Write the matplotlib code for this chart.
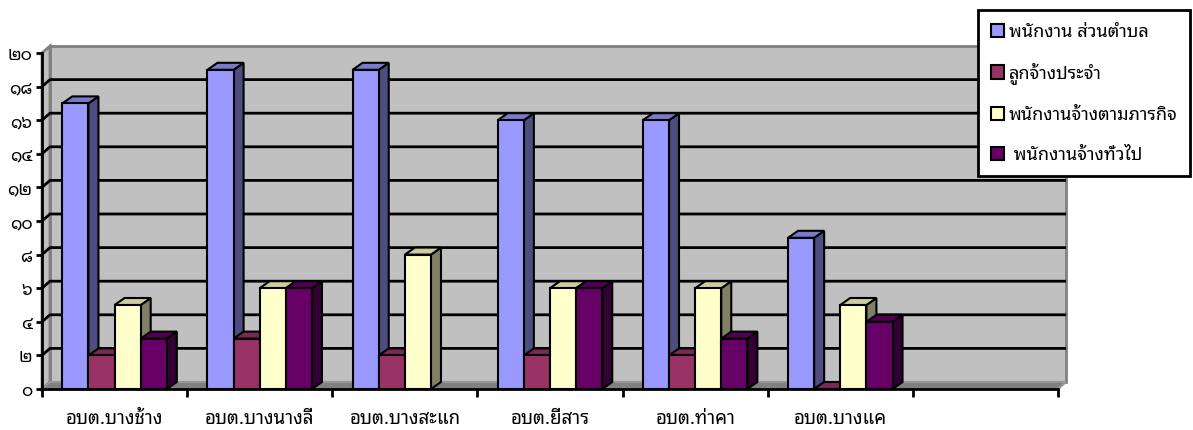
import numpy as np
import matplotlib
matplotlib.use("Agg")
import matplotlib.pyplot as plt
from matplotlib.patches import Polygon, Patch

plt.rcParams['font.family'] = ['Noto Sans Thai Looped', 'DejaVu Sans']

# data
categories = ['อบต.บางช้าง', 'อบต.บางนางลี่', 'อบต.บางสะแก', 'อบต.ยี่สาร', 'อบต.ท่าคา', 'อบต.บางแค']
series_names = ['พนักงาน ส่วนตำบล', 'ลูกจ้างประจำ', 'พนักงานจ้างตามภารกิจ', ' พนักงานจ้างทั่วไป']
staff = [17, 19, 19, 16, 16, 9]
permanent = [2, 3, 2, 2, 2, 0]
mission = [5, 6, 8, 6, 6, 5]
general = [3, 6, np.nan, 6, 3, 4]
ytick_labels = ['๐', '๒', '๔', '๖', '๘', '๑๐', '๑๒', '๑๔', '๑๖', '๑๘', '๒๐']

front = ['#9999FF', '#993366', '#FFFFCC', '#660066']
side = ['#4D4D80', '#4D1A33', '#808066', '#330033']
top = ['#7A7ACC', '#7A2952', '#CCCCA3', '#520052']

W, H = 1193, 430
fig = plt.figure(figsize=(W / 100, H / 100), dpi=100)
x0, x1, y0, y1 = 42, 1058, 389, 53
ax = fig.add_axes([x0 / W, 1 - y0 / H, (x1 - x0) / W, (y0 - y1) / H])
nslots = 7
ymax = 20
ax.set_xlim(0, nslots)
ax.set_ylim(0, ymax)
px = nslots / (x1 - x0)
py = ymax / (y0 - y1)

# walls
dx, dy = 8 * px, 7 * py
wall_edge = '#808080'
ax.add_patch(Polygon([(dx, dy), (nslots + dx, dy), (nslots + dx, ymax + dy), (dx, ymax + dy)],
                     closed=True, fc='#C0C0C0', ec=wall_edge, lw=2, clip_on=False, zorder=0))
ax.add_patch(Polygon([(0, 0), (dx, dy), (dx, ymax + dy), (0, ymax)],
                     closed=True, fc='#C0C0C0', ec=wall_edge, lw=2, clip_on=False, zorder=0))
ax.add_patch(Polygon([(0, 0), (nslots, 0), (nslots + dx, dy), (dx, dy)],
                     closed=True, fc='#808080', ec='#969696', lw=1.5, clip_on=False, zorder=1))
for v in range(2, ymax, 2):
    ax.plot([0, dx, nslots + dx], [v, v + dy, v + dy], color='black', lw=2,
            clip_on=False, zorder=1, solid_capstyle='butt')

# bars
values = [staff, permanent, mission, general]
bw = 0.18
start = 0.14
bdx, bdy = 10 * px, 7 * py
z = 2
for c in range(len(categories)):
    for s, vals in enumerate(values):
        v = vals[c]
        if np.isnan(v):
            continue
        left = c + start + s * bw
        right = left + bw
        ax.add_patch(Polygon([(right, 0), (right + bdx, bdy), (right + bdx, v + bdy), (right, v)],
                             closed=True, fc=side[s], ec='black', lw=1.5, zorder=z, clip_on=False))
        ax.add_patch(Polygon([(left, v), (right, v), (right + bdx, v + bdy), (left + bdx, v + bdy)],
                             closed=True, fc=top[s], ec='black', lw=1.5, zorder=z, clip_on=False))
        if v > 0:
            ax.bar(left, v, width=bw, align='edge', color=front[s], edgecolor='black',
                   lw=1.5, zorder=z, clip_on=False)
        z += 1

# axes
for sp in ['top', 'right']:
    ax.spines[sp].set_visible(False)
ax.spines['left'].set_linewidth(2)
ax.spines['bottom'].set_linewidth(2)
ax.spines['left'].set_zorder(100)
ax.spines['bottom'].set_zorder(100)
ax.patch.set_visible(False)
ax.set_yticks(range(0, ymax + 1, 2))
ax.set_yticklabels(ytick_labels, fontsize=12.5, fontweight='bold')
ax.tick_params(axis='y', length=4, width=2, direction='out', pad=3)
ax.set_xticks(np.arange(len(categories)) + 0.5)
ax.set_xticklabels(categories, fontsize=13.5)
ax.tick_params(axis='x', which='major', length=0, pad=15)
ax.set_xticks(range(0, nslots + 1), minor=True)
ax.tick_params(axis='x', which='minor', length=6, width=2, direction='out')

handles = [Patch(fc=front[i], ec='black', lw=1.5) for i in range(4)]
leg = fig.legend(handles, series_names, loc='upper right',
                 bbox_to_anchor=(1190 / W, 1 - 10 / H), borderaxespad=0, fontsize=13,
                 handlelength=0.75, handleheight=0.75, handletextpad=0.25,
                 labelspacing=1.2, borderpad=0.7, fancybox=False, framealpha=1)
leg.get_frame().set_edgecolor('black')
leg.get_frame().set_linewidth(2)

fig.savefig('out.png', dpi=100)
